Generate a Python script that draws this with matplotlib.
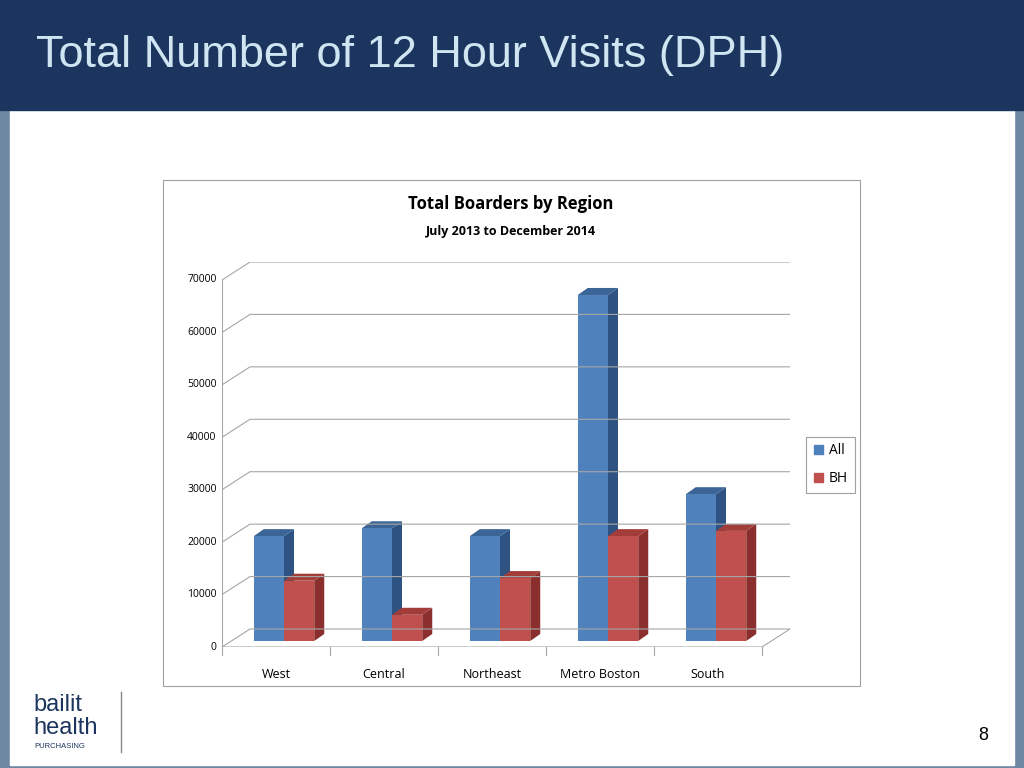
import matplotlib
matplotlib.use("Agg")
import matplotlib.pyplot as plt
from matplotlib.patches import Polygon, Rectangle

categories = ["West", "Central", "Northeast", "Metro Boston", "South"]
all_vals = [20000, 21500, 20000, 66000, 28000]
bh_vals = [11500, 5000, 12000, 20000, 21000]
yticks = [0, 10000, 20000, 30000, 40000, 50000, 60000, 70000]

fig = plt.figure(figsize=(10.24, 7.68), dpi=100)
bg = fig.add_axes([0, 0, 1, 1]); bg.set_xlim(0, 1024); bg.set_ylim(768, 0); bg.axis("off")
bg.add_patch(Rectangle((0, 0), 1024, 768, color="#6E88A3"))
bg.add_patch(Rectangle((10, 110), 1004, 655, color="white"))
bg.add_patch(Rectangle((0, 0), 1024, 110, color="#1C355E"))
bg.text(36, 55, "Total Number of 12 Hour Visits (DPH)", color="#CFE6F2", fontsize=32.5,
        family="Liberation Sans", va="center")
bg.add_patch(Rectangle((163, 180), 697, 506, fill=False, ec="#A0A0A0", lw=0.8))
bg.text(511, 204, "Total Boarders by Region", fontsize=12, weight="bold", ha="center", va="center",
        family="Open Sans")
bg.text(511, 231, "July 2013 to December 2014", fontsize=9, weight="bold", ha="center", va="center",
        family="Open Sans")
bg.text(983, 735, "8", fontsize=13, ha="center", va="center", family="Liberation Sans")
bg.text(33, 705, "bailit", fontsize=17, color="#1C355E", va="center", family="Liberation Sans")
bg.text(33, 728, "health", fontsize=17, color="#1C355E", va="center", family="Liberation Sans")
bg.text(34, 746, "PURCHASING", fontsize=5.5, color="#1C355E", va="center", family="Liberation Sans")
bg.plot([121, 121], [692, 752], color="#888888", lw=1)
bg.add_patch(Rectangle((806, 437), 49, 56, fill=False, ec="#A0A0A0", lw=0.8))
bg.add_patch(Rectangle((814, 445), 9, 9, color="#4F81BD"))
bg.add_patch(Rectangle((814, 473), 9, 9, color="#C0504D"))
bg.text(829, 450, "All", fontsize=10, va="center", family="Open Sans")
bg.text(829, 478, "BH", fontsize=10, va="center", family="Open Sans")

ax = fig.add_axes([222/1024, 1-647/768, 568/1024, 385/768])
ax.patch.set_alpha(0)
ppx = 108.0
ypx = 367.0 / 70000
ax.set_xlim(-0.5, -0.5 + 568/ppx)
ax.set_ylim(0, 385/ypx)
for s in ax.spines.values():
    s.set_visible(False)
ax.set_xticks([]); ax.set_yticks([])

DX = 28/ppx; DY = 18/ypx
gc = "#A6A6A6"
x0, x1 = -0.5, 4.5
for t in yticks:
    ax.plot([x0, x0+DX, x1+DX], [t, t+DY, t+DY], color=gc, lw=0.8)
    ax.text(x0-0.05, t, str(t), ha="right", va="center", fontsize=7.5, family="Open Sans")
ax.plot([x0, x0], [0, 70000], color=gc, lw=0.8)
ax.plot([x0, x1, x1+DX], [0, 0, DY], color=gc, lw=0.8)
for i in range(6):
    ax.plot([x0+i, x0+i], [0, -1500], color=gc, lw=0.8, clip_on=False)
for i, c in enumerate(categories):
    ax.text(i, -4000, c, ha="center", va="top", fontsize=9, family="Open Sans")

w = 0.28; bdx = 10/ppx; bdy = 7/ypx
ox = 8/ppx; oy = 6/ypx
def bar3d(xc, h, front, side, top):
    xl, xr = xc - w/2 + ox, xc + w/2 + ox
    b = oy; t = h + oy
    ax.add_patch(Polygon([(xr, b), (xr+bdx, b+bdy), (xr+bdx, t+bdy), (xr, t)], color=side, lw=0))
    ax.add_patch(Polygon([(xl, t), (xl+bdx, t+bdy), (xr+bdx, t+bdy), (xr, t)], color=top, lw=0))
    ax.add_patch(Rectangle((xl, b), w, h, color=front, lw=0))

for i in range(len(categories)):
    bar3d(i - w/2, all_vals[i], "#4F81BD", "#2E5282", "#3C6597")
    bar3d(i + w/2, bh_vals[i], "#C0504D", "#8A2F2D", "#A23D3A")

fig.savefig("out.png", dpi=100)
